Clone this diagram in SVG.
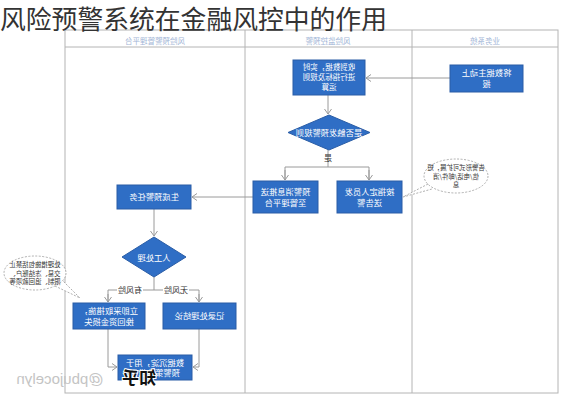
<svg xmlns="http://www.w3.org/2000/svg" width="565" height="400" viewBox="0 0 565 400">
<defs>
<marker id="arr" markerWidth="8" markerHeight="8" refX="6" refY="4" orient="auto" markerUnits="userSpaceOnUse">
<path d="M1,0.5 L6,4 L1,7.5" fill="none" stroke="#9a9a9a" stroke-width="1"/>
</marker>
<style>
text{font-family:"Noto Sans CJK SC","Liberation Sans",sans-serif;}
.frame{fill:none;stroke:#b4b4b4;stroke-width:1;}
.hd{font-size:7.5px;fill:#9fb5d6;text-anchor:middle;}
.box{fill:#2f6ec5;stroke:#2a5da6;stroke-width:1;}
.bt{font-size:8.3px;fill:#ffffff;text-anchor:middle;}
.ln{fill:none;stroke:#9a9a9a;stroke-width:1;}
.lb{font-size:8px;fill:#333;text-anchor:middle;}
.cl{fill:#ffffff;stroke:#9a9a9a;stroke-width:0.8;stroke-dasharray:2 1.5;}
.ct{font-size:6.4px;fill:#333;text-anchor:middle;}
</style>
</defs>
<rect width="565" height="400" fill="#ffffff"/>
<g id="lanes">
<rect class="frame" x="65" y="30" width="493" height="363"/>
<line class="frame" x1="65" y1="47" x2="558" y2="47"/>
<line class="frame" x1="245" y1="30" x2="245" y2="393"/>
<line class="frame" x1="412" y1="30" x2="412" y2="393"/>
<text class="hd" x="-155" y="43.5" transform="scale(-1,1)">风险预警管理平台</text>
<text class="hd" x="-328" y="43.5" transform="scale(-1,1)">风险监控预警</text>
<text class="hd" x="-485" y="43.5" transform="scale(-1,1)">业务系统</text>
</g>
<text x="0" y="28.5" font-size="25.8" fill="#333">风险预警系统在金融风控中的作用</text>
<g id="connectors">
<line class="ln" x1="450" y1="78" x2="366" y2="78" marker-end="url(#arr)"/>
<line class="ln" x1="328" y1="95" x2="328" y2="114" marker-end="url(#arr)"/>
<polyline class="ln" points="328,150 328,167"/>
<polyline class="ln" points="285,180 285,167 369,167 369,180" />
<line class="ln" x1="285" y1="170" x2="285" y2="180" marker-end="url(#arr)"/>
<line class="ln" x1="369" y1="170" x2="369" y2="180" marker-end="url(#arr)"/>
<line class="ln" x1="253" y1="197" x2="192" y2="197" marker-end="url(#arr)"/>
<line class="ln" x1="154" y1="209" x2="154" y2="236" marker-end="url(#arr)"/>
<polyline class="ln" points="154,277 154,290"/>
<polyline class="ln" points="108,302 108,290 199,290 199,302"/>
<line class="ln" x1="108" y1="294" x2="108" y2="302" marker-end="url(#arr)"/>
<line class="ln" x1="199" y1="294" x2="199" y2="302" marker-end="url(#arr)"/>
<polyline class="ln" points="108,329 108,367 117,367" marker-end="url(#arr)"/>
<polyline class="ln" points="199,329 199,367 193,367" marker-end="url(#arr)"/>
<rect x="117" y="285" width="26" height="10" fill="#fff"/>
<rect x="163" y="285" width="26" height="10" fill="#fff"/>
<text class="lb" x="-130" y="293" transform="scale(-1,1)">有风险</text>
<text class="lb" x="-176" y="293" transform="scale(-1,1)">无风险</text>
<text class="lb" x="-328" y="161" transform="scale(-1,1)">是</text>
</g>
<g id="n_report">
<rect class="box" x="450" y="65" width="73" height="27"/>
<text class="bt" x="-486.5" y="76" transform="scale(-1,1)">将数据主动上</text>
<text class="bt" x="-486.5" y="87" transform="scale(-1,1)">报</text>
</g>
<g id="n_calc">
<rect class="box" x="293" y="60" width="72" height="35"/>
<text class="bt" x="-329" y="70.2" transform="scale(-1,1)" style="font-size:7.5px">收到数据，实时</text>
<text class="bt" x="-329" y="80.2" transform="scale(-1,1)" style="font-size:7.5px">进行指标及规则</text>
<text class="bt" x="-329" y="90.2" transform="scale(-1,1)" style="font-size:7.5px">运算</text>
</g>
<g id="n_rule">
<polygon class="box" points="329,115 370,132.5 329,150 288,132.5"/>
<text class="bt" x="-329" y="135.5" transform="scale(-1,1)">是否触发预警规则</text>
</g>
<g id="n_push">
<rect class="box" x="253" y="181" width="65" height="32"/>
<text class="bt" x="-285.5" y="195" transform="scale(-1,1)">预警消息推送</text>
<text class="bt" x="-285.5" y="206" transform="scale(-1,1)">至管理平台</text>
</g>
<g id="n_notify">
<rect class="box" x="337" y="181" width="65" height="32"/>
<text class="bt" x="-369.5" y="195" transform="scale(-1,1)">按指定人员发</text>
<text class="bt" x="-369.5" y="206" transform="scale(-1,1)">送告警</text>
</g>
<g id="c_right">
<path class="cl" d="M428,184 L403,197 L432,189"/>
<ellipse class="cl" cx="456" cy="176" rx="32" ry="17"/>
<text class="ct" x="-456" y="170" transform="scale(-1,1)">告警形式可扩展，短</text>
<text class="ct" x="-456" y="178.5" transform="scale(-1,1)">信/电话/邮件/消</text>
<text class="ct" x="-456" y="187" transform="scale(-1,1)">息</text>
</g>
<g id="n_task">
<rect class="box" x="117" y="185" width="74" height="24"/>
<text class="bt" x="-154" y="200" transform="scale(-1,1)">生成预警任务</text>
</g>
<g id="n_manual">
<polygon class="box" points="154,237 186,257 154,277 122,257"/>
<text class="bt" x="-154" y="260.5" transform="scale(-1,1)">人工处理</text>
</g>
<g id="n_act">
<rect class="box" x="73" y="303" width="72" height="26"/>
<text class="bt" x="-109" y="314" transform="scale(-1,1)">立即采取措施，</text>
<text class="bt" x="-109" y="325" transform="scale(-1,1)">挽回资金损失</text>
</g>
<g id="n_log">
<rect class="box" x="163" y="303" width="73" height="26"/>
<text class="bt" x="-199.5" y="319" transform="scale(-1,1)">记录处理结论</text>
</g>
<g id="c_left">
<path class="cl" d="M55,286 L80,298 L62,280"/>
<ellipse class="cl" cx="35" cy="273" rx="31" ry="17"/>
<text class="ct" x="-35" y="267" transform="scale(-1,1)">处理措施包括禁止</text>
<text class="ct" x="-35" y="275.5" transform="scale(-1,1)">交易、冻结账户、</text>
<text class="ct" x="-35" y="284" transform="scale(-1,1)">限制、追回款项等</text>
</g>
<g id="n_data">
<rect class="box" x="118" y="355" width="74" height="25"/>
<text class="bt" x="-155" y="365.5" transform="scale(-1,1)">数据沉淀，用于</text>
<text class="bt" x="-155" y="376" transform="scale(-1,1)">预警策略优化</text>
</g>
<g id="watermark">
<text x="-60" y="384" font-size="15" fill="#c4c4c4" text-anchor="middle" transform="scale(-1,1)" style="font-family:'Liberation Sans',sans-serif">@pbujocelyn</text>
<text x="-139" y="384" font-size="17" font-weight="bold" fill="#111" stroke="#fff" stroke-width="2" paint-order="stroke" text-anchor="middle" transform="scale(-1,1)">知乎</text>
</g>
</svg>
